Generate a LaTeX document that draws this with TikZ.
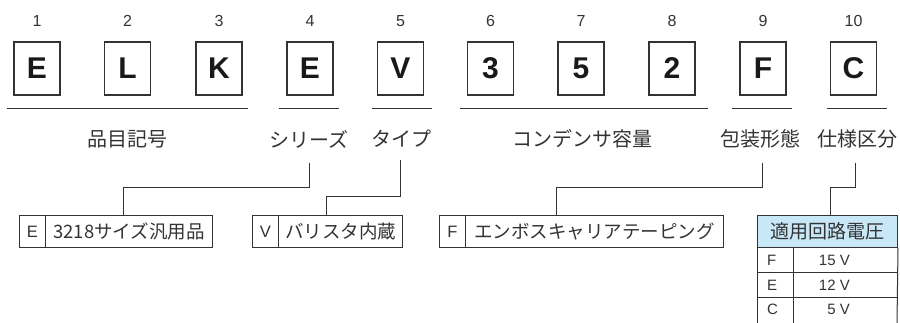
\documentclass[tikz,border=0pt]{standalone}
\usepackage{fontspec}
\setmainfont{Liberation Sans}
\newfontfamily\jp{Noto Sans CJK JP}
\definecolor{hdrblue}{HTML}{C8E8F8}
\definecolor{inkc}{HTML}{333333}
\begin{document}
\begin{tikzpicture}[x=1pt,y=-1pt,
  ln/.style={draw=inkc, line width=1pt},
  codebox/.style={draw=inkc, line width=1.2pt, minimum width=46pt, minimum height=53pt, inner sep=0pt,
    font={\fontsize{30}{30}\selectfont\bfseries}, text=black!90},
  num/.style={font={\fontsize{16}{16}\selectfont}, inner sep=0pt, text=inkc},
  grp/.style={font={\jp\fontsize{20}{20}\selectfont}, inner sep=0pt, text=inkc},
  cell/.style={draw=inkc, line width=1pt, minimum height=32pt, inner sep=0pt, anchor=north west, text=inkc},
  keycell/.style={cell, font={\fontsize{16.5}{16.5}\selectfont}},
  desccell/.style={cell, font={\jp\fontsize{18.5}{18.5}\selectfont}},
  rowtxt/.style={inner sep=0pt, font={\fontsize{15}{15}\selectfont}, text=inkc}
]
\useasboundingbox (0,0) rectangle (900,323);

% code boxes and position numbers
\foreach \i/\x/\t in {1/37/E,2/127.5/L,3/219/K,4/310/E,5/400.5/V,6/490.5/3,7/581/5,8/672/2,9/763/F,10/853.5/C}{
  \node[codebox] (c\i) at (\x,68.5) {\t};
  \node[num] (n\i) at (\x,21) {\i};
}

% group underlines
\draw[ln] (7,109) -- (248,109);
\draw[ln] (279,109) -- (339,109);
\draw[ln] (372,109) -- (432,109);
\draw[ln] (460,109) -- (708,109);
\draw[ln] (732,109) -- (792,109);
\draw[ln] (827,109) -- (887,109);

% group labels
\node[grp] (g1) at (127,139) {品目記号};
\node[grp] (g2) at (309,139) {シリーズ};
\node[grp] (g3) at (401,139) {タイプ};
\node[grp] (g4) at (582,139) {コンデンサ容量};
\node[grp] (g5) at (760,139) {包装形態};
\node[grp] (g6) at (857.5,139) {仕様区分};

% description boxes
\node[keycell, minimum width=26pt] (d4k) at (19,215) {E};
\node[desccell, minimum width=167pt] (d4t) at (45,215) {3218サイズ汎用品};
\node[keycell, minimum width=26pt] (d5k) at (252,215) {V};
\node[desccell, minimum width=124pt] (d5t) at (278,215) {バリスタ内蔵};
\node[keycell, minimum width=26pt] (d9k) at (439,215) {F};
\node[desccell, minimum width=258pt] (d9t) at (465,215) {エンボスキャリアテーピング};

% table for spec
\node[cell, fill=hdrblue, minimum width=140pt, font={\jp\fontsize{19}{19}\selectfont}] (th) at (757,215) {適用回路電圧};
\draw[ln] (th.south west) -- (757,323);
\draw[ln] (th.south east) -- (897,323);
\draw[ln] (757,273) -- (897,273);
\draw[ln] (757,297) -- (897,297);
\draw[ln] (793,247) -- (793,323);
\node[rowtxt, anchor=west] (r1k) at (767,260) {F};
\node[rowtxt, anchor=west] (r2k) at (767,285) {E};
\node[rowtxt, anchor=west] (r3k) at (767,309.5) {C};
\node[rowtxt, anchor=east] (r1v) at (850,260) {15 V};
\node[rowtxt, anchor=east] (r2v) at (850,285) {12 V};
\node[rowtxt, anchor=east] (r3v) at (850,309.5) {5 V};

% connectors
\coordinate (t4) at (309,163);
\coordinate (e4) at (123,215);
\coordinate (t5) at (400,160);
\coordinate (e5) at (326,215);
\coordinate (t9) at (762,163);
\coordinate (e9) at (556,215);
\coordinate (t10) at (855,163);
\coordinate (e10) at (830,215);
\draw[ln] (t4) -- ++(0,25) -| (e4);
\draw[ln] (t5) -- ++(0,37) -| (e5);
\draw[ln] (t9) -- ++(0,25) -| (e9);
\draw[ln] (t10) -- ++(0,25) -| (e10);
\end{tikzpicture}
\end{document}
